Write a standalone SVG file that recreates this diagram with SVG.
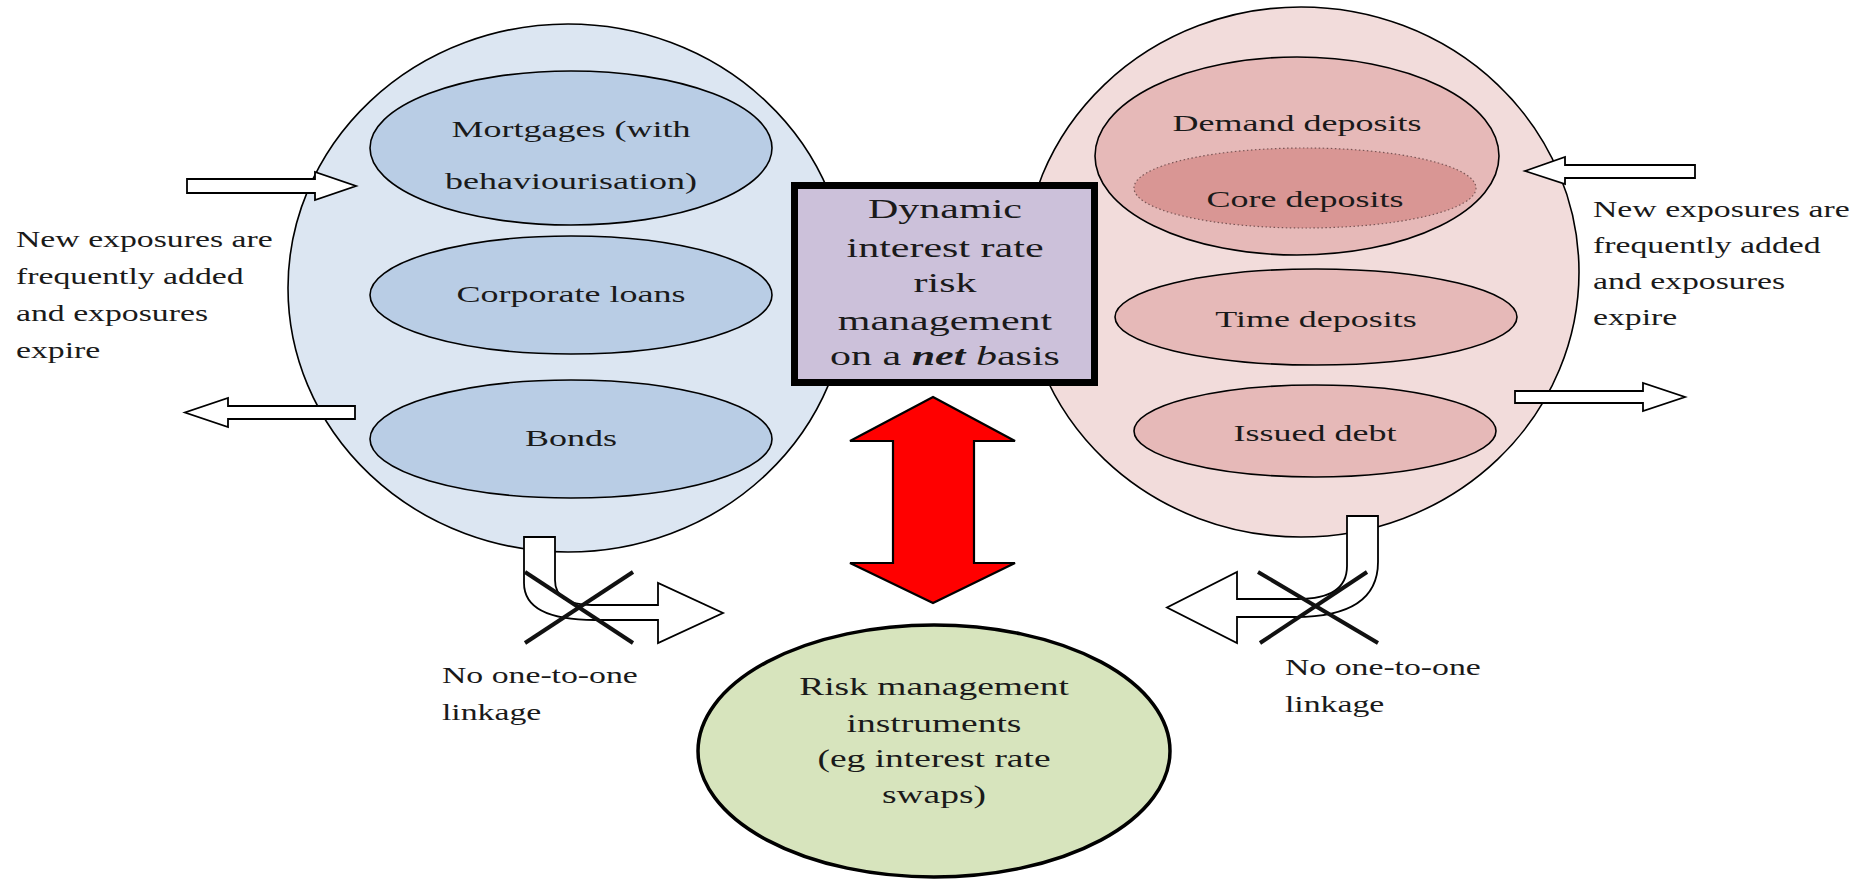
<svg xmlns="http://www.w3.org/2000/svg" width="1869" height="880" viewBox="0 0 1869 880">
<style>
.t{font-family:"Liberation Serif","Times New Roman",serif;fill:#1a1a1a}
.side{font-size:22.5px}
.inner{font-size:24px}
.box{font-size:28px}
.green{font-size:25px}
.ell{stroke:#000;stroke-width:1.6}
.wa{fill:#fff;stroke:#000;stroke-width:1.8;stroke-linejoin:miter}
.x{stroke:#111;stroke-width:4;stroke-linecap:butt}
</style>
<rect width="1869" height="880" fill="#fff"/>

<g id="assets">
  <ellipse class="ell" cx="568" cy="288" rx="280" ry="264" fill="#dce6f2"/>
  <g id="mortgages">
    <ellipse class="ell" cx="571" cy="148" rx="201" ry="77" fill="#b9cde5"/>
    <text class="t inner" text-anchor="middle" transform="translate(571,137) scale(1.5,1)">Mortgages (with</text>
    <text class="t inner" text-anchor="middle" transform="translate(571,189) scale(1.5,1)">behaviourisation)</text>
  </g>
  <g id="corporate-loans">
    <ellipse class="ell" cx="571" cy="295" rx="201" ry="59" fill="#b9cde5"/>
    <text class="t inner" text-anchor="middle" transform="translate(571,302) scale(1.5,1)">Corporate loans</text>
  </g>
  <g id="bonds">
    <ellipse class="ell" cx="571" cy="439" rx="201" ry="59" fill="#b9cde5"/>
    <text class="t inner" text-anchor="middle" transform="translate(571,446) scale(1.5,1)">Bonds</text>
  </g>
</g>

<g id="liabilities">
  <ellipse class="ell" cx="1301" cy="272" rx="278" ry="265" fill="#f2dcdb"/>
  <g id="demand-deposits">
    <ellipse class="ell" cx="1297" cy="156" rx="202" ry="99" fill="#e6b9b8"/>
    <text class="t inner" text-anchor="middle" transform="translate(1297,131) scale(1.5,1)">Demand deposits</text>
  </g>
  <g id="core-deposits">
    <ellipse cx="1305" cy="188" rx="171" ry="40" fill="#d99694" stroke="#7a5555" stroke-width="1.2" stroke-dasharray="1.5 2.5"/>
    <text class="t inner" text-anchor="middle" transform="translate(1305,207) scale(1.5,1)">Core deposits</text>
  </g>
  <g id="time-deposits">
    <ellipse class="ell" cx="1316" cy="317" rx="201" ry="48" fill="#e6b9b8"/>
    <text class="t inner" text-anchor="middle" transform="translate(1316,327) scale(1.5,1)">Time deposits</text>
  </g>
  <g id="issued-debt">
    <ellipse class="ell" cx="1315" cy="431" rx="181" ry="46" fill="#e6b9b8"/>
    <text class="t inner" text-anchor="middle" transform="translate(1315,441) scale(1.5,1)">Issued debt</text>
  </g>
</g>

<g id="connectors">
  <path class="wa" d="M187 179 L315 179 L315 172 L356 186 L315 200 L315 193 L187 193 Z"/>
  <path class="wa" d="M355 406 L228 406 L228 398 L185 412.5 L228 427 L228 419 L355 419 Z"/>
  <path class="wa" d="M1695 165 L1565 165 L1565 157 L1525 171 L1565 184 L1565 178 L1695 178 Z"/>
  <path class="wa" d="M1515 391 L1643 391 L1643 383 L1685 397 L1643 411 L1643 403 L1515 403 Z"/>
  <path class="wa" d="M524 537 L555 537 L555 580 Q555 605 592 605 L658 605 L658 583 L723 613 L658 643 L658 620 L595 620 Q524 620 524 583 Z"/>
  <path class="wa" d="M1378 516 L1347 516 L1347 566 Q1347 599 1298 599 L1237 599 L1237 572 L1167 607.5 L1237 643 L1237 617 L1295 617 Q1378 617 1378 562 Z"/>
  <path d="M933 397 L1015 441 L974 441 L974 563 L1015 563 L933 603 L850 563 L893 563 L893 441 L850 441 Z" fill="#ff0000" stroke="#000" stroke-width="2.2" stroke-linejoin="miter"/>
  <line class="x" x1="525" y1="572" x2="633" y2="643"/>
  <line class="x" x1="525" y1="643" x2="633" y2="572"/>
  <line class="x" x1="1258" y1="572" x2="1378" y2="643"/>
  <line class="x" x1="1260" y1="643" x2="1367" y2="572"/>
</g>

<g id="dynamic-box">
  <rect x="794.5" y="185.5" width="300" height="197" fill="#ccc1da" stroke="#000" stroke-width="7"/>
  <text class="t box" text-anchor="middle" transform="translate(945,218) scale(1.5,1)">Dynamic</text>
  <text class="t box" text-anchor="middle" transform="translate(945,257) scale(1.5,1)">interest rate</text>
  <text class="t box" text-anchor="middle" transform="translate(945,292) scale(1.5,1)">risk</text>
  <text class="t box" text-anchor="middle" transform="translate(945,330) scale(1.5,1)">management</text>
  <text class="t box" text-anchor="middle" transform="translate(945,365) scale(1.5,1)">on a <tspan font-weight="bold" font-style="italic">net</tspan> <tspan font-style="italic">b</tspan>asis</text>
</g>

<g id="instruments">
  <ellipse cx="934" cy="751" rx="236" ry="126" fill="#d7e4bd" stroke="#000" stroke-width="3.5"/>
  <text class="t green" text-anchor="middle" transform="translate(934,695) scale(1.5,1)">Risk management</text>
  <text class="t green" text-anchor="middle" transform="translate(934,732) scale(1.5,1)">instruments</text>
  <text class="t green" text-anchor="middle" transform="translate(934,767) scale(1.5,1)">(eg interest rate</text>
  <text class="t green" text-anchor="middle" transform="translate(934,803) scale(1.5,1)">swaps)</text>
</g>

<g id="labels">
  <text class="t side" transform="translate(16,247) scale(1.5,1)">New exposures are</text>
  <text class="t side" transform="translate(16,284) scale(1.5,1)">frequently added</text>
  <text class="t side" transform="translate(16,321) scale(1.5,1)">and exposures</text>
  <text class="t side" transform="translate(16,358) scale(1.5,1)">expire</text>
  <text class="t side" transform="translate(1593,217) scale(1.5,1)">New exposures are</text>
  <text class="t side" transform="translate(1593,253) scale(1.5,1)">frequently added</text>
  <text class="t side" transform="translate(1593,289) scale(1.5,1)">and exposures</text>
  <text class="t side" transform="translate(1593,325) scale(1.5,1)">expire</text>
  <text class="t side" transform="translate(442,683) scale(1.5,1)">No one-to-one</text>
  <text class="t side" transform="translate(442,720) scale(1.5,1)">linkage</text>
  <text class="t side" transform="translate(1285,675) scale(1.5,1)">No one-to-one</text>
  <text class="t side" transform="translate(1285,712) scale(1.5,1)">linkage</text>
</g>
</svg>
